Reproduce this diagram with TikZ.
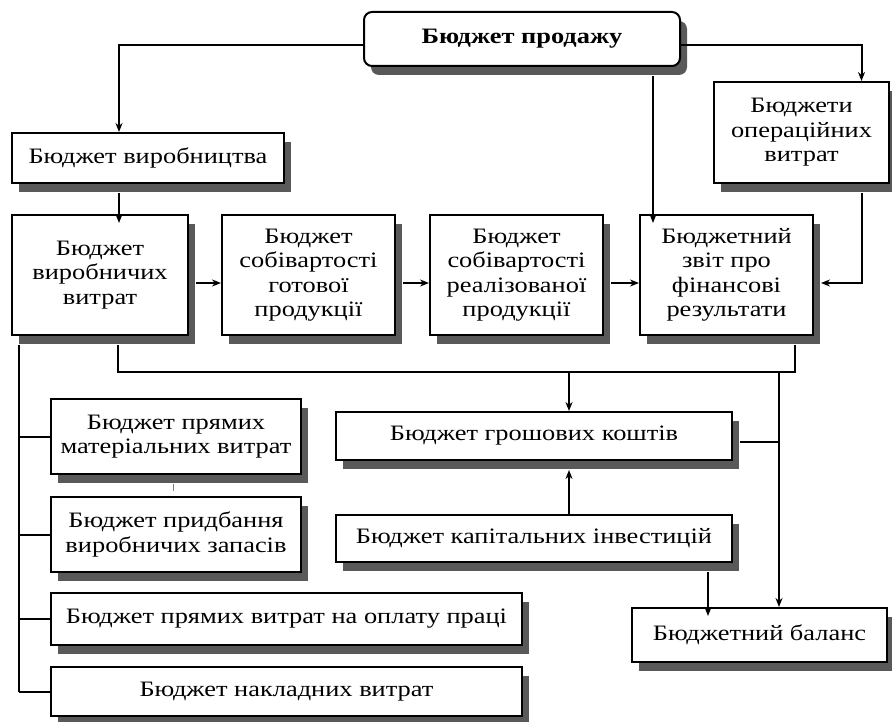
\documentclass[tikz,border=0pt]{standalone}
\usepackage{fontspec}
\setmainfont[FakeStretch=1.2]{Liberation Serif}
\usetikzlibrary{shadows,arrows.meta,calc}
\begin{document}
\begin{tikzpicture}[x=1pt,y=-1pt,
  box/.style={draw=black,line width=2pt,fill=white,align=center,inner sep=2pt,
    font=\fontsize{22}{24.5}\selectfont,
    drop shadow={shadow xshift=7pt,shadow yshift=-9pt,fill=black!65,opacity=1}},
  con/.style={line width=2pt},
  arr/.style={con,-{Stealth[length=9pt,width=7pt]}}]
\useasboundingbox (0,0) rectangle (892,722);
% nodes
\node[box,rounded corners=8pt,minimum width=316pt,minimum height=54pt,
  font=\bfseries\fontsize{22}{25}\selectfont] (top) at (522,39) {Бюджет продажу};
\node[box,minimum width=272pt,minimum height=50pt] (vyrob) at (148,158) {Бюджет виробництва};
\node[box,minimum width=175pt,minimum height=101pt] (op) at (801.5,132.5) {Бюджети\\операційних\\витрат};
\node[box,minimum width=176pt,minimum height=120pt] (B1) at (100,275) {Бюджет\\виробничих\\витрат};
\node[box,minimum width=173pt,minimum height=120pt] (B2) at (308.5,275) {Бюджет\\собівартості\\готової\\продукції};
\node[box,minimum width=173pt,minimum height=120pt] (B3) at (516.5,275) {Бюджет\\собівартості\\реалізованої\\продукції};
\node[box,minimum width=173pt,minimum height=120pt] (B4) at (726.5,275) {Бюджетний\\звіт про\\фінансові\\результати};
\node[box,minimum width=250pt,minimum height=75pt] (PM) at (176,436.5) {Бюджет прямих\\матеріальних витрат};
\node[box,minimum width=250pt,minimum height=75pt] (PZ) at (176,534.5) {Бюджет придбання\\виробничих запасів};
\node[box,minimum width=471pt,minimum height=52pt] (PO) at (286.5,619) {Бюджет прямих витрат на оплату праці};
\node[box,minimum width=471pt,minimum height=49pt] (NV) at (286.5,691.5) {Бюджет накладних витрат};
\node[box,minimum width=396pt,minimum height=48pt] (GK) at (534,436) {Бюджет грошових коштів};
\node[box,minimum width=396pt,minimum height=47pt] (KI) at (534,538.5) {Бюджет капітальних інвестицій};
\node[box,minimum width=255pt,minimum height=54pt] (BB) at (759.5,635) {Бюджетний баланс};
% connectors from top
\draw[arr] ([yshift=-6pt]top.west) -| ([xshift=-29pt]vyrob.north);
\draw[arr] ([yshift=-6pt]top.east) -| ([xshift=60pt]op.north);
\draw[arr] ([xshift=131pt,yshift=-9pt]top.south) -- ([xshift=131pt,yshift=-9pt]top.south |- B4.north);
\draw[arr] ([xshift=-29pt,yshift=-9pt]vyrob.south) -- ([xshift=-29pt,yshift=-9pt]vyrob.south |- B1.north);
% row arrows
\draw[arr] ([xshift=7pt,yshift=-8pt]B1.east) -- ([yshift=-8pt]B2.west);
\draw[arr] ([xshift=7pt,yshift=-8pt]B2.east) -- ([yshift=-8pt]B3.west);
\draw[arr] ([xshift=7pt,yshift=-8pt]B3.east) -- ([yshift=-8pt]B4.west);
\draw[arr] ([xshift=60pt,yshift=-9pt]op.south) |- ([xshift=7pt,yshift=-8pt]B4.east);
% bus under row
\coordinate (bus) at (569,372);
\coordinate (busr) at (779,372);
\draw[con] ([xshift=18pt,yshift=-9pt]B1.south) |- (bus) -| ([xshift=68.5pt,yshift=-9pt]B4.south);
\draw[arr] (bus) -- (bus |- GK.north);
\draw[arr] (busr) -- (busr |- BB.north);
\draw[con] ([xshift=7pt,yshift=-6pt]GK.east) -- ([yshift=-6pt]GK.east -| busr);
\draw[arr] (KI.north -| bus) -- ([yshift=-9pt]GK.south -| bus);
\draw[arr] ([xshift=174pt,yshift=-9pt]KI.south) -- ([xshift=174pt,yshift=-9pt]KI.south |- BB.north);
% left bus
\draw[con] ([xshift=8pt,yshift=-9pt]B1.south west) coordinate (lb) -- (lb |- NV.west);
\foreach \n in {PM,PZ,PO,NV} \draw[con] (lb |- \n.west) -- (\n.west);
\draw[line width=1pt,black!50] ([xshift=-3pt,yshift=-9pt]PM.south) -- ([xshift=-3pt,yshift=-16pt]PM.south);
\end{tikzpicture}
\end{document}
